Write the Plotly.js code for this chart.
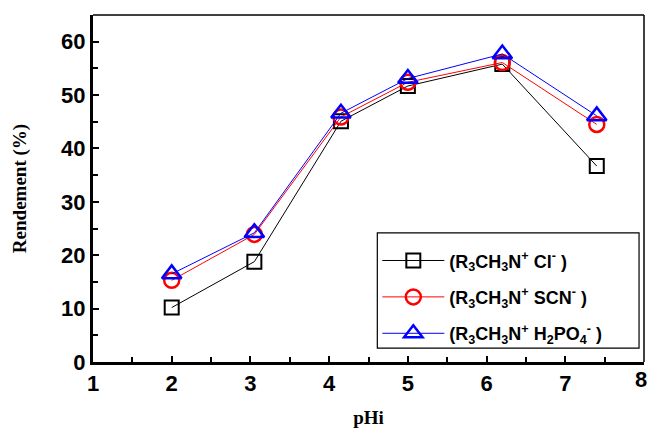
<!DOCTYPE html>
<html>
<head>
<meta charset="utf-8">
<script src="https://cdn.plot.ly/plotly-3.0.1.min.js"></script>
<style>html,body{margin:0;padding:0;background:#fff;}#chart{width:648px;height:429px;}</style>
</head>
<body>
<div id="chart"></div>
<script>
var pH = [2.0, 3.05, 4.15, 5.0, 6.2, 7.4];
var cl = [10.2, 18.8, 45.1, 51.7, 55.8, 36.7];
var scn = [15.3, 23.9, 45.9, 52.4, 56.1, 44.5];
var h2po4 = [16.5, 24.2, 46.6, 53.1, 57.7, 46.1];
var names = [
  "(R<sub>3</sub>CH<sub>3</sub>N<sup>+</sup> Cl<sup>-</sup> )",
  "(R<sub>3</sub>CH<sub>3</sub>N<sup>+</sup> SCN<sup>-</sup> )",
  "(R<sub>3</sub>CH<sub>3</sub>N<sup>+</sup> H<sub>2</sub>PO<sub>4</sub><sup>-</sup> )"
];
var xTicks = [1, 2, 3, 4, 5, 6, 7, 8];
var xTitle = "pHi";
var yTitle = "Rendement (%)";

var sansBold = function (s) { return {family: "Liberation Sans, Arial", size: s, color: "#000", weight: "bold"}; };
var traces = [
  {x: pH, y: cl, name: names[0], legendgroup: "a", mode: "lines+markers",
   line: {color: "#000", width: 1},
   marker: {symbol: "square-open", size: 14, color: "#000", line: {width: 2, color: "#000"}}},
  {x: pH, y: scn, name: names[1], legendgroup: "b", mode: "lines+markers",
   line: {color: "#ff0000", width: 1},
   marker: {symbol: "circle-open", size: 15, color: "#ff0000", line: {width: 2.5, color: "#ff0000"}}},
  {x: pH, y: h2po4, name: names[2], legendgroup: "c", mode: "lines+markers",
   line: {color: "#0000ff", width: 1},
   marker: {symbol: "triangle-up-open", size: 17, color: "#0000ff", line: {width: 2.5, color: "#0000ff"}}}
];
var layout = {
  width: 648, height: 429,
  margin: {l: 93, r: 4, t: 15, b: 67},
  paper_bgcolor: "#fff", plot_bgcolor: "#fff",
  showlegend: true,
  legend: {x: 0.516, y: 0.345, xanchor: "left", yanchor: "top",
    borderwidth: 0, bgcolor: "rgba(0,0,0,0)",
    font: sansBold(18),
    itemwidth: 62, tracegroupgap: 10},
  xaxis: {range: [1, 8], tickmode: "array", tickvals: xTicks.slice(0, 7), ticktext: xTicks.slice(0, 7).map(String),
    showgrid: false, zeroline: false,
    showline: true, linecolor: "#000", linewidth: 3,
    ticks: "inside", ticklen: 6, tickwidth: 2, tickcolor: "#000",
    minor: {ticks: "inside", dtick: 0.5, tick0: 1, ticklen: 5, tickwidth: 2, tickcolor: "#000", showgrid: false},
    tickfont: sansBold(22),
    title: {text: xTitle, font: {family: "Liberation Serif, Times New Roman", size: 19, color: "#000", weight: "bold"}, standoff: 16}},
  yaxis: {range: [0, 65], dtick: 10, tick0: 0, showgrid: false, zeroline: false,
    showline: true, linecolor: "#000", linewidth: 3,
    ticks: "inside", ticklen: 6, tickwidth: 2, tickcolor: "#000",
    minor: {ticks: "inside", dtick: 5, ticklen: 5, tickwidth: 2, tickcolor: "#000", showgrid: false},
    tickfont: sansBold(22),
    title: {text: yTitle, font: {family: "Liberation Serif, Times New Roman", size: 19, color: "#000", weight: "bold"}, standoff: 30}},
  annotations: [
    {x: xTicks[7], y: 0, xref: "x", yref: "y", text: String(xTicks[7]), showarrow: false,
     xanchor: "center", yanchor: "top", yshift: -3, xshift: -3, font: sansBold(22)}
  ],
  shapes: [
    {type: "line", xref: "paper", yref: "paper", x0: 0, x1: 1, y0: 1, y1: 1, line: {color: "#000", width: 1.5}},
    {type: "line", xref: "paper", yref: "paper", x0: 1, x1: 1, y0: 0, y1: 1, line: {color: "#000", width: 1.5}},
    {type: "rect", xref: "paper", yref: "paper", x0: 0.516, x1: 0.991, y0: 0.040, y1: 0.372,
     line: {color: "#000", width: 1.2}, fillcolor: "#fff", layer: "above"}
  ]
};
Plotly.newPlot("chart", traces, layout, {displayModeBar: false, staticPlot: true});
</script>
</body>
</html>
